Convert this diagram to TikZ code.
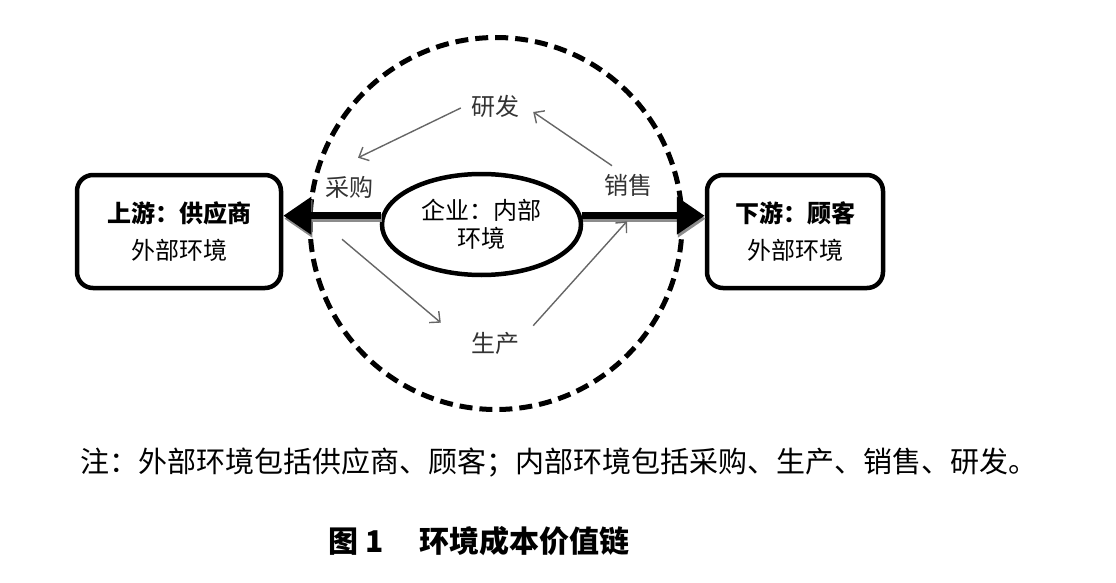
\documentclass[tikz,border=0pt]{standalone}
\usepackage{fontspec}
\newfontfamily\cjk{Noto Sans CJK SC}
\usetikzlibrary{arrows.meta}
\usetikzlibrary{shapes.geometric}

\begin{document}
\begin{tikzpicture}[x=1pt,y=-1pt,
  ext_box/.style={rectangle,draw,line width=4.5pt,rounded corners=16pt,minimum width=204pt,minimum height=113pt,align=center,font=\cjk\fontsize{24}{37}\selectfont},
  firm_ellipse/.style={ellipse,draw,line width=4.5pt,minimum width=199pt,minimum height=101pt,inner sep=0pt,align=center,font=\cjk\fontsize{24}{28}\selectfont},
  env_circle/.style={circle,draw,line width=5pt,dash pattern=on 13pt off 7pt,minimum size=372pt,inner sep=0pt},
  step_label/.style={text=black!80,inner sep=3pt,font=\cjk\fontsize{24}{28}\selectfont},
  main_arrow/.style={line width=7pt,-{Triangle[length=28pt,width=36pt]},preaction={draw=black!45,line width=7pt,transform canvas={xshift=1pt,yshift=-3pt}}},
  flow_arrow/.style={draw=black!60,line width=1.4pt,-{Straight Barb[length=8pt,width=15pt]}},
  note_text/.style={font=\cjk\fontsize{29}{34}\selectfont,inner sep=0pt},
  caption_text/.style={font=\cjk\bfseries\fontsize{30}{34}\selectfont,inner sep=0pt}
  ]

\useasboundingbox (0,0) rectangle (1116,583);

% inner and outer environment
\node[env_circle] (env) at (496,223.5) {};
\node[firm_ellipse] (firm) at (481.5,224.5) {企业：内部\\环境};

\node[ext_box] (up) at (179,231.5) {\textbf{上游：供应商}\\外部环境};
\node[ext_box,minimum width=176pt] (down) at (795,231.5) {\textbf{下游：顾客}\\外部环境};

% value chain steps
\node[step_label] (rd) at (495,106) {研发};
\node[step_label] (cg) at (349,187) {采购};
\node[step_label] (xs) at (628,185) {销售};
\node[step_label] (sc) at (495,343) {生产};

\draw[main_arrow] (firm.175) -- (firm.175 -| up.east);
\draw[main_arrow] (firm.5) -- (firm.5 -| down.west);

\draw[flow_arrow] ([xshift=-7pt,yshift=-2pt]rd.west) -- ([xshift=9pt,yshift=15pt]cg.north);
\draw[flow_arrow] ([xshift=-16pt,yshift=5pt]xs.north) -- ([xshift=11pt,yshift=-6pt]rd.east);
\draw[flow_arrow] ([xshift=-7pt,yshift=-38pt]cg.south) -- ([xshift=-27pt,yshift=6pt]sc.north west);
\draw[flow_arrow] ([xshift=11pt,yshift=3pt]sc.north east) -- ([xshift=-1pt,yshift=-22pt]xs.south);

% textual explanation
\node[note_text] (note) at (559,463) {注：外部环境包括供应商、顾客；内部环境包括采购、生产、销售、研发。};
\node[caption_text,anchor=west] (caption) at (328,541) {图~1\hspace{36pt}环境成本价值链};

\end{tikzpicture}
\end{document}
